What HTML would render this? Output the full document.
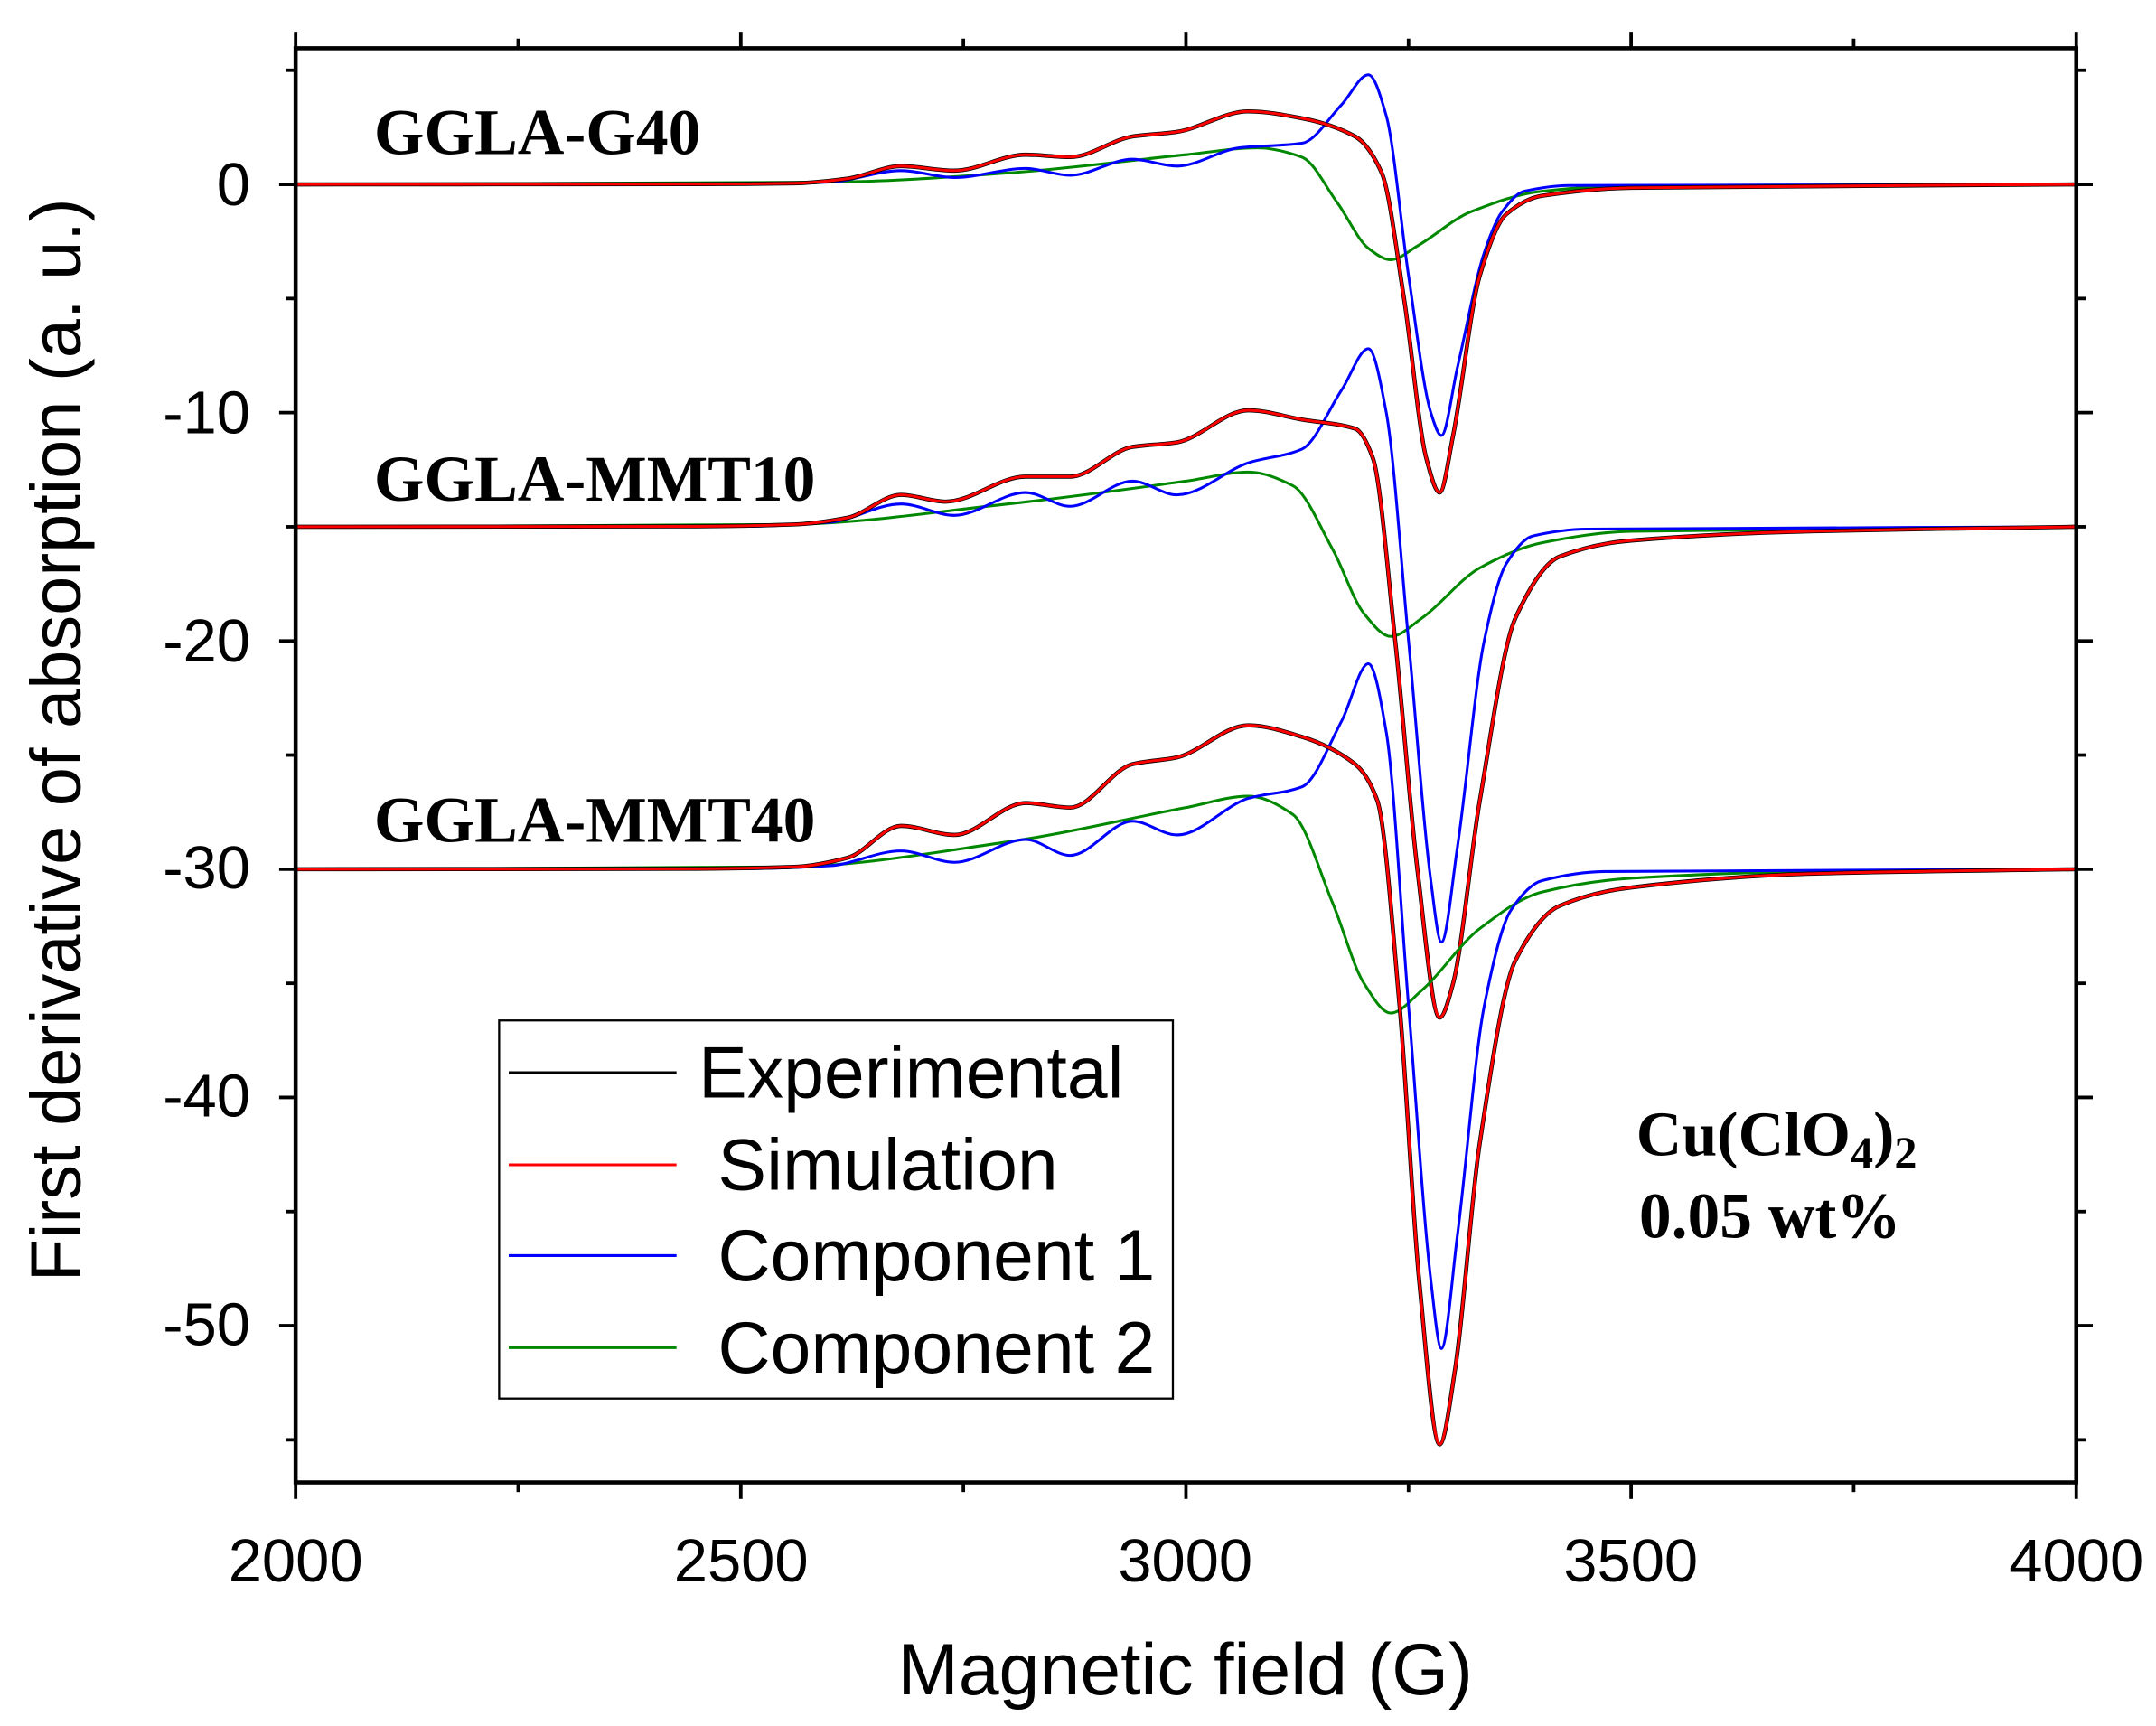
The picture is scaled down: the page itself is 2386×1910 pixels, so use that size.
<!DOCTYPE html>
<html><head><meta charset="utf-8"><style>html,body{margin:0;padding:0;background:#fff}svg{display:block}</style></head>
<body>
<svg id="s" width="2386" height="1910" viewBox="0 0 1568 1255" xmlns="http://www.w3.org/2000/svg" font-family="Liberation Sans, sans-serif">
<rect width="1568" height="1255" fill="#fff"/>
<g id="curves" fill="none" stroke-width="2"></g>
<rect x="215" y="35" width="1295" height="1043" fill="none" stroke="#000" stroke-width="3"/>
<g id="ticks" stroke="#000" stroke-width="2.5"></g>
<g font-size="44" text-anchor="end" fill="#000">
<text x="182" y="149">0</text><text x="182" y="315">-10</text><text x="182" y="481">-20</text>
<text x="182" y="646">-30</text><text x="182" y="812">-40</text><text x="182" y="978">-50</text>
</g>
<g font-size="44" text-anchor="middle" fill="#000">
<text x="215" y="1150">2000</text><text x="539" y="1150">2500</text><text x="862" y="1150">3000</text>
<text x="1186" y="1150">3500</text><text x="1510" y="1150">4000</text>
</g>
<text x="862" y="1232" font-size="53" text-anchor="middle">Magnetic field (G)</text>
<text transform="translate(58,538) rotate(-90)" font-size="51" text-anchor="middle">First derivative of absorption (a. u.)</text>
<g font-family="Liberation Serif, serif" font-weight="bold" font-size="47">
<text x="272" y="112">GGLA-G40</text>
<text x="272" y="364">GGLA-MMT10</text>
<text x="272" y="612">GGLA-MMT40</text>
<text x="1190" y="840" font-size="46">Cu(ClO<tspan font-size="33" dy="9">4</tspan><tspan dy="-9">)</tspan><tspan font-size="33" dy="9">2</tspan></text>
<text x="1192" y="900" font-size="47">0.05 wt%</text>
</g>
<rect x="363" y="742" width="490" height="275" fill="#fff" stroke="#000" stroke-width="1.5"/>
<g stroke-width="2">
<line x1="370" y1="780" x2="492" y2="780" stroke="#000"/>
<line x1="370" y1="847" x2="492" y2="847" stroke="#f00"/>
<line x1="370" y1="913" x2="492" y2="913" stroke="#00f"/>
<line x1="370" y1="980" x2="492" y2="980" stroke="#080"/>
</g>
<g font-size="53" fill="#000">
<text x="508" y="798">Experimental</text>
<text x="522" y="865">Simulation</text>
<text x="522" y="931">Component 1</text>
<text x="522" y="998">Component 2</text>
</g>
</svg>
<script>
(function(){
var NS="http://www.w3.org/2000/svg";
function X(g){return 215+(g-2000)*0.6475;}
function Y(v){return 134-16.6*v;}
function path(pts,off,col,w){
 var P=pts.map(function(p){return [X(p[0]),Y(p[1]+off)];});
 var n=P.length,d=[],m=[];
 for(var k=0;k<n-1;k++)d.push((P[k+1][1]-P[k][1])/(P[k+1][0]-P[k][0]));
 m[0]=d[0];m[n-1]=d[n-2];
 for(var i=1;i<n-1;i++){m[i]=(d[i-1]*d[i]>0)?2/(1/d[i-1]+1/d[i]):0;}
 var s="M"+P[0][0].toFixed(1)+","+P[0][1].toFixed(1);
 for(var i=0;i<n-1;i++){
  var h=(P[i+1][0]-P[i][0])/3;
  s+=" C"+(P[i][0]+h).toFixed(1)+","+(P[i][1]+m[i]*h).toFixed(1)+" "+(P[i+1][0]-h).toFixed(1)+","+(P[i+1][1]-m[i+1]*h).toFixed(1)+" "+P[i+1][0].toFixed(1)+","+P[i+1][1].toFixed(1);
 }
 var e=document.createElementNS(NS,"path");e.setAttribute("d",s);e.setAttribute("stroke",col);e.setAttribute("stroke-width",w||2);
 document.getElementById("curves").appendChild(e);
}
var sets=[
{off:0,
 red:[[2000,0],[2450,0.01],[2560,0.05],[2620,0.25],[2680,0.8],[2740,0.6],[2820,1.3],[2870,1.2],[2940,2.1],[2990,2.3],[3070,3.2],[3130,2.9],[3190,2.1],[3220,0.5],[3245,-5],[3270,-12],[3285,-13.5],[3300,-11],[3330,-4],[3360,-1.3],[3400,-0.5],[3500,-0.15],[4000,0]],
 blue:[[2000,0],[2500,0.01],[2600,0.1],[2680,0.6],[2740,0.3],[2820,0.7],[2870,0.4],[2940,1.1],[2990,0.8],[3060,1.6],[3130,1.8],[3175,3.5],[3205,4.8],[3225,3],[3250,-4],[3275,-10],[3287,-11],[3305,-8],[3335,-3],[3355,-1.2],[3380,-0.3],[3430,-0.05],[4000,0]],
 green:[[2000,0],[2600,0.1],[2800,0.5],[3000,1.3],[3080,1.6],[3130,1.2],[3170,-0.8],[3205,-2.8],[3230,-3.3],[3260,-2.7],[3320,-1.2],[3400,-0.3],[3500,-0.05],[4000,0]]},
{off:-15,
 red:[[2000,0],[2450,0.02],[2560,0.1],[2620,0.4],[2680,1.4],[2730,1.1],[2820,2.2],[2870,2.2],[2940,3.5],[2990,3.7],[3070,5.1],[3130,4.7],[3190,4.3],[3210,3],[3235,-5],[3260,-15],[3285,-21.5],[3300,-20],[3330,-12],[3370,-4],[3420,-1.3],[3500,-0.6],[3700,-0.2],[4000,0]],
 blue:[[2000,0],[2500,0.02],[2600,0.2],[2680,1],[2740,0.5],[2820,1.5],[2870,0.9],[2940,2],[2990,1.4],[3070,2.8],[3130,3.4],[3175,6],[3205,7.8],[3225,5],[3250,-5],[3275,-15.5],[3287,-18.2],[3305,-14],[3335,-5],[3360,-1.6],[3390,-0.4],[3450,-0.1],[4000,0]],
 green:[[2000,0],[2550,0.1],[2800,1],[3000,2],[3070,2.4],[3120,1.8],[3165,-1],[3200,-3.8],[3230,-4.8],[3265,-4],[3330,-1.8],[3400,-0.7],[3500,-0.2],[4000,0]]},
{off:-30,
 red:[[2000,0],[2450,0.02],[2560,0.1],[2620,0.5],[2680,1.9],[2740,1.5],[2820,2.9],[2870,2.7],[2940,4.6],[2990,4.9],[3070,6.3],[3130,5.8],[3190,4.6],[3215,3],[3240,-6],[3262,-18],[3285,-25.2],[3302,-22],[3330,-12],[3370,-4],[3420,-1.6],[3500,-0.8],[3700,-0.2],[4000,0]],
 blue:[[2000,0],[2500,0.02],[2600,0.15],[2680,0.8],[2740,0.3],[2820,1.3],[2870,0.6],[2940,2.1],[2990,1.5],[3070,3.1],[3130,3.6],[3175,6.5],[3205,9],[3225,6],[3250,-6],[3275,-18],[3287,-21],[3305,-16],[3335,-6],[3365,-1.8],[3400,-0.5],[3470,-0.1],[4000,0]],
 green:[[2000,0],[2550,0.1],[2800,1.2],[3000,2.7],[3070,3.2],[3120,2.4],[3165,-1.5],[3200,-5],[3230,-6.3],[3265,-5.3],[3330,-2.6],[3400,-1],[3500,-0.4],[3700,-0.1],[4000,0]]}
];
sets.forEach(function(s){
 path(s.green,s.off,"#080");
 path(s.blue,s.off,"#00f");
 path(s.red,s.off,"#000",3);
 path(s.red,s.off,"#f00",2);
});
var t=document.getElementById("ticks");
function L(x1,y1,x2,y2){var l=document.createElementNS(NS,"line");l.setAttribute("x1",x1);l.setAttribute("y1",y1);l.setAttribute("x2",x2);l.setAttribute("y2",y2);t.appendChild(l);}
for(var v=5;v>=-55;v-=5){var y=Y(v);var major=(v%10===0);var len=major?12:7;
 L(215-len,y,215,y); L(1510,y,1510+len,y);}
for(var g=2000;g<=4000;g+=250){var x=X(g);var major=(g%500===0);var len=major?12:7;
 L(x,1078,x,1078+len); L(x,35-len,x,35);}
})();
</script>
</body></html>
